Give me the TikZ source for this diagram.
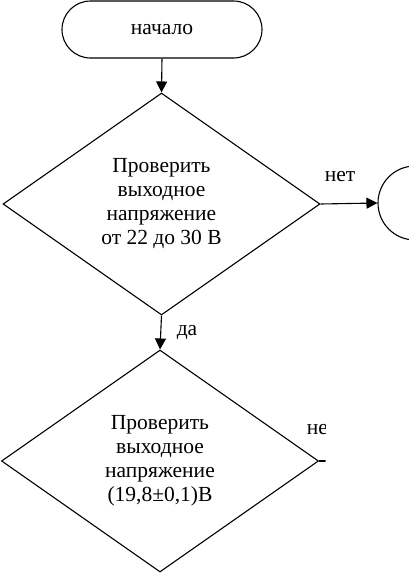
\documentclass[tikz,border=0pt]{standalone}
\usepackage{fontspec}
\setmainfont{Liberation Serif}
\usetikzlibrary{shapes.geometric,arrows.meta}
\tikzset{
  line/.style={line width=1.1pt, draw=black},
  arr/.style={line, -{Triangle[length=11pt,width=11pt]}},
  txt/.style={font=\fontsize{21.5}{24}\selectfont},
  term/.style={line, txt, rectangle, rounded corners=28.5pt, minimum width=200pt, minimum height=57pt, inner sep=0pt},
  decision/.style={line, txt, diamond, minimum width=317pt, minimum height=222pt, inner sep=0pt, align=center},
  conn/.style={line, circle, minimum size=74pt, inner sep=0pt},
  lbl/.style={txt, inner sep=0pt}
}
\begin{document}
\begin{tikzpicture}[x=1pt,y=-1pt]
\useasboundingbox (0,0) rectangle (409,574);
\node[term] (start) at (162,29.5) {начало};
\node[decision] (d1) at (161.5,204) {Проверить\\выходное\\напряжение\\от 22 до 30 В};
\node[conn] (c1) at (415,203) {};
\draw[arr] (start.south) -- (d1.north);
\draw[arr] (d1.east) -- (c1.west);
\node[lbl] (no1) at (340,177) {нет};
\node[decision] (d2) at (160,461) {Проверить\\выходное\\напряжение\\(19,8±0,1)В};
\draw[arr] (d1.south) -- (d2.north);
\node[lbl] (yes1) at (187,333) {да};
\begin{scope}
\clip (0,380) rectangle (325.5,574);
\coordinate (e2) at (340,461);
\draw[line] (d2.east) -- (e2);
\node[lbl] (no2) at (322,430) {нет};
\end{scope}
\end{tikzpicture}
\end{document}
